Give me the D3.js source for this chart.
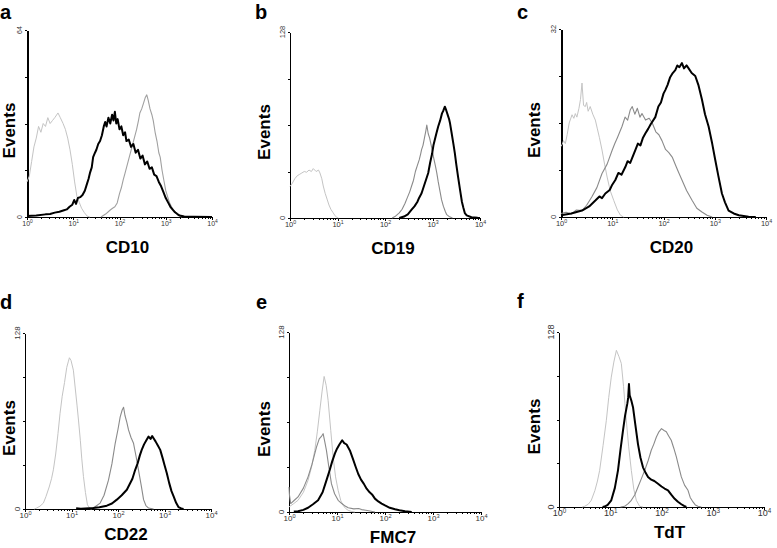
<!DOCTYPE html>
<head>
  <meta charset="utf-8">
  <style>
    body { margin: 0; background: #fff; }
    text { font-family: Arial, "Liberation Sans", sans-serif; }
    .curve { fill: none; stroke-linejoin: round; }
    .letter { font-weight: bold; font-size: 20px; }
    .ylab, .xlab { font-weight: bold; font-size: 17px; }
    .axis path, .axis line { stroke: #000; shape-rendering: crispEdges; }
    .ticklab { font-size: 7px; fill: #333; }
  </style>
  <script src="https://d3js.org/d3.v7.min.js"></script>
</head>

<body>
  <script>
    // panel labels and markers
    var letters = ["a", "b", "c", "d", "e", "f"];
    var markers = ["CD10", "CD19", "CD20", "CD22", "FMC7", "TdT"];
    var yMaxes = [64, 128, 32, 128, 128, 128];
    var decadeLabels = ["0", "1", "2", "3", "4"];

    // curves: [log10 intensity, events]
    // light gray = isotype control, mid gray = control cells, black = sample
    var lightA = [[0,12],[0.05,14],[0.1,19],[0.15,24],[0.2,27],[0.25,31],[0.3,29],[0.35,32],[0.4,31],[0.45,34],[0.5,32],[0.55,33],[0.6,34],[0.67,35.6],[0.72,34],[0.78,32],[0.83,30],[0.88,27],[0.93,23],[0.98,18],[1.03,12],[1.08,7],[1.13,5],[1.18,3],[1.24,1.5],[1.3,0.3],[1.36,0]];
    var midA = [[1.6,0],[1.7,1],[1.8,2.4],[1.85,3],[1.9,3.5],[1.95,4.8],[2.0,8],[2.04,10],[2.08,12.7],[2.12,15],[2.17,18],[2.22,21],[2.27,24],[2.32,27],[2.37,30],[2.41,33],[2.44,35.6],[2.48,37],[2.52,39],[2.56,41],[2.59,41.8],[2.62,40],[2.66,37],[2.7,35],[2.73,33],[2.77,29],[2.81,26],[2.85,22],[2.88,20.5],[2.92,16],[2.96,12.5],[3.0,9],[3.04,7],[3.08,5],[3.14,3],[3.2,1.8],[3.24,1.3],[3.3,0.4],[3.35,0]];
    var blackA = [[0,0.3],[0.2,0.5],[0.4,0.9],[0.5,1.0],[0.6,1.5],[0.7,1.8],[0.8,2.3],[0.86,2.6],[0.92,3.5],[0.98,4.2],[1.02,5.8],[1.06,4.5],[1.1,6.5],[1.15,6.8],[1.2,7.5],[1.25,9],[1.3,11.5],[1.33,13],[1.36,15],[1.4,17],[1.43,20.5],[1.47,22],[1.5,23],[1.54,25],[1.58,26],[1.62,28],[1.66,31],[1.69,32.5],[1.72,31],[1.76,34],[1.8,32],[1.84,35],[1.87,33],[1.9,36],[1.93,32],[1.96,33.5],[2.0,30],[2.04,31],[2.08,28],[2.12,29],[2.15,26],[2.2,26.5],[2.25,24],[2.3,25],[2.35,22],[2.4,23],[2.45,20],[2.5,21],[2.55,18],[2.6,19],[2.65,16.5],[2.7,17],[2.75,14.5],[2.8,14],[2.85,12],[2.9,10.5],[2.95,8.5],[3.0,6.5],[3.05,5],[3.1,3.5],[3.15,2.5],[3.2,1.6],[3.25,1],[3.3,0.5],[3.4,0.2],[3.6,0.1],[4,0]];

    var lightB = [[0,21.7],[0.05,24],[0.1,27],[0.15,29],[0.2,30],[0.25,31],[0.3,32],[0.35,31.5],[0.4,33],[0.45,32],[0.49,34],[0.55,32],[0.6,33],[0.63,31],[0.67,27],[0.7,22],[0.74,17],[0.78,13],[0.82,9],[0.86,6],[0.9,4],[0.94,2],[0.98,0.5],[1.02,0]];
    var midB = [[2.15,0],[2.21,1],[2.3,3.5],[2.36,6],[2.42,10],[2.47,14],[2.52,18],[2.56,22],[2.6,26],[2.64,32],[2.68,36],[2.72,40],[2.75,44],[2.77,47],[2.8,50],[2.83,55],[2.86,60],[2.88,64],[2.91,58],[2.94,55],[2.98,49],[3.02,42],[3.06,36],[3.09,31],[3.12,25],[3.16,18],[3.19,12.6],[3.23,8],[3.27,4.5],[3.3,2.3],[3.36,0.8],[3.42,0]];
    var blackB = [[2.3,0],[2.4,1],[2.48,2.5],[2.56,5.7],[2.62,8],[2.68,11],[2.72,14],[2.77,17],[2.82,22],[2.86,26],[2.91,31],[2.95,38],[2.99,44],[3.02,50],[3.05,54],[3.08,58],[3.12,63],[3.16,67],[3.2,72],[3.23,74],[3.26,76.6],[3.29,74],[3.32,71],[3.35,68],[3.37,65],[3.4,59],[3.44,51],[3.47,44.6],[3.5,37],[3.54,28],[3.58,19.4],[3.62,11],[3.65,7],[3.68,3.4],[3.72,1.8],[3.82,0.5],[3.95,0.1],[4,0]];

    var lightC = [[0,12],[0.02,12.3],[0.05,13],[0.085,12.5],[0.12,14],[0.16,16],[0.215,17.4],[0.25,16.8],[0.28,17.6],[0.31,17],[0.35,18.5],[0.38,20],[0.41,22.8],[0.44,19],[0.475,18.8],[0.5,19.5],[0.53,18],[0.57,18.8],[0.62,17.5],[0.67,16.5],[0.71,15],[0.75,13.5],[0.8,11.4],[0.85,9],[0.9,6.8],[0.96,4.5],[1.03,2.8],[1.1,1.2],[1.16,0.3],[1.22,0]];
    var midC = [[0,0.6],[0.1,0.8],[0.2,0.5],[0.3,1.2],[0.41,1.1],[0.5,2],[0.6,3.4],[0.7,5],[0.8,7.4],[0.9,9],[1.0,11.4],[1.05,12.5],[1.1,13.5],[1.19,15.4],[1.25,17],[1.3,16.5],[1.35,18.2],[1.39,18.8],[1.44,17.5],[1.49,18.5],[1.54,17],[1.58,17.6],[1.65,16.5],[1.72,16.8],[1.78,16],[1.85,14.5],[1.91,14],[1.97,13],[2.04,11.5],[2.1,11],[2.17,10.2],[2.25,8.5],[2.3,7.5],[2.36,6.3],[2.45,4.5],[2.56,2.8],[2.65,1.5],[2.75,0.85],[2.85,0.3],[2.95,0]];
    var blackC = [[0,0.3],[0.2,0.6],[0.41,1.1],[0.55,1.8],[0.67,2.8],[0.75,3.5],[0.8,3.2],[0.865,4],[0.95,4.6],[1.0,5.5],[1.06,6.3],[1.12,7.5],[1.18,7.2],[1.255,8.5],[1.3,9.5],[1.35,9.2],[1.45,11.4],[1.5,12.5],[1.55,12.2],[1.6,13.5],[1.645,14.2],[1.7,15],[1.75,15.8],[1.84,17],[1.9,18.8],[1.95,19.5],[2.0,21],[2.035,21.6],[2.08,22.5],[2.13,23.8],[2.18,24.5],[2.23,25],[2.27,25.8],[2.31,25.5],[2.36,26.2],[2.4,25.3],[2.45,25.8],[2.49,25.3],[2.55,24.5],[2.62,24],[2.68,22.5],[2.75,20],[2.81,17.5],[2.88,15.4],[2.95,12.5],[3.01,9.7],[3.07,7],[3.14,4],[3.2,2.5],[3.27,1.1],[3.37,0.6],[3.47,0.3],[3.66,0.05],[3.8,0]];

    var lightD = [[0.2,0],[0.25,0.7],[0.32,2],[0.395,4.3],[0.45,9],[0.52,16],[0.57,22],[0.61,28.5],[0.66,40],[0.71,55],[0.754,69.6],[0.8,82],[0.85,92],[0.898,103],[0.93,107],[0.955,110],[0.99,108],[1.04,101],[1.08,88],[1.12,75],[1.15,64.7],[1.19,50],[1.22,37],[1.257,23.7],[1.3,12],[1.343,3],[1.39,0.8],[1.436,0]];
    var midD = [[1.4,0],[1.5,1.5],[1.616,4.3],[1.7,10],[1.795,21],[1.87,33],[1.94,47.8],[2.0,58],[2.047,67],[2.09,72],[2.12,74],[2.15,68],[2.19,63],[2.226,57.5],[2.28,52],[2.334,47.8],[2.39,38],[2.44,28.5],[2.5,17],[2.55,6.8],[2.6,2.5],[2.657,0.7],[2.765,0]];
    var blackD = [[1.1,0.5],[1.2,0.2],[1.47,0.8],[1.6,1.2],[1.76,2.4],[1.87,4],[1.975,6.8],[2.08,10],[2.19,14],[2.25,18],[2.31,22],[2.37,28.5],[2.42,33],[2.47,39],[2.51,43],[2.56,47],[2.61,50],[2.657,52.7],[2.7,51],[2.735,53],[2.765,51.4],[2.81,49],[2.86,46],[2.908,43],[2.96,37],[3.0,32],[3.05,26],[3.1,19],[3.15,13],[3.196,9.2],[3.25,4.5],[3.3,1.4],[3.36,0.4],[3.41,0]];

    var lightE = [[0,3.6],[0.1,6],[0.188,8.3],[0.3,14],[0.397,22.5],[0.47,32],[0.537,43.8],[0.59,57],[0.641,72],[0.69,86],[0.732,96.4],[0.775,90],[0.815,79.4],[0.87,58],[0.92,39],[0.97,25],[1.024,15.4],[1.08,8],[1.129,4.7],[1.18,2.5],[1.233,1.2],[1.3,0.4],[1.373,0]];
    var midE = [[0,17.8],[0.01,12],[0.035,6],[0.1,8],[0.188,10.7],[0.3,17],[0.397,25],[0.48,34],[0.571,46],[0.63,52],[0.68,54],[0.711,55.7],[0.745,50],[0.78,43.8],[0.83,32],[0.885,20],[0.95,13],[1.024,8.3],[1.1,6],[1.17,4.2],[1.233,3],[1.35,2.2],[1.45,2.5],[1.512,1.7],[1.6,1.2],[1.686,0.7],[1.79,0]];
    var blackE = [[0.1,0.3],[0.188,0.5],[0.3,1.5],[0.397,3],[0.5,5.5],[0.606,8.3],[0.7,14],[0.78,22.5],[0.85,30],[0.9,36],[0.955,41.5],[1.0,45],[1.05,48],[1.108,51],[1.15,49],[1.2,48],[1.268,43.8],[1.33,38],[1.39,32],[1.443,27],[1.5,23],[1.56,20],[1.617,16.6],[1.68,14],[1.73,12.5],[1.79,9.5],[1.86,7.5],[1.93,6],[2.0,4.7],[2.1,3],[2.21,1.9],[2.3,1.2],[2.418,0.5],[2.557,0]];

    var lightF = [[0.45,0],[0.5,0.5],[0.57,2],[0.63,4.9],[0.7,12],[0.75,19],[0.793,26.8],[0.86,45],[0.924,63.4],[0.97,80],[1.02,95],[1.07,106],[1.12,114.6],[1.17,110],[1.216,105],[1.26,88],[1.314,63],[1.36,44],[1.411,26.8],[1.46,13],[1.509,4.9],[1.574,0.5],[1.639,0]];
    var midF = [[1.2,0],[1.281,0.5],[1.35,2.5],[1.411,4.9],[1.48,9],[1.541,14.6],[1.6,20],[1.672,26.8],[1.74,34],[1.8,41.5],[1.85,46],[1.9,51.2],[1.95,55],[2.0,57.3],[2.05,56],[2.094,55],[2.14,52],[2.19,48.8],[2.24,43],[2.29,36.6],[2.34,29],[2.387,22],[2.45,16],[2.517,12.2],[2.56,7],[2.615,3.7],[2.66,1.5],[2.712,0.5],[2.777,0]];
    var blackF = [[0.85,0],[0.891,0.3],[0.95,1.5],[1.02,4.9],[1.09,14],[1.151,26.8],[1.2,42],[1.249,56],[1.29,67],[1.333,75.6],[1.35,80],[1.365,90],[1.379,81.7],[1.41,78],[1.444,73],[1.49,60],[1.541,46],[1.59,36],[1.639,29],[1.69,25],[1.737,22],[1.8,20],[1.86,19],[1.932,17],[2.0,15],[2.06,13.5],[2.127,12.2],[2.19,9],[2.257,6],[2.32,3.8],[2.387,2],[2.44,0.8],[2.485,0]];

    var lightCurves = [lightA, lightB, lightC, lightD, lightE, lightF];
    var midCurves = [midA, midB, midC, midD, midE, midF];
    var blackCurves = [blackA, blackB, blackC, blackD, blackE, blackF];

    // where each panel sits on the page
    var layout = [
      { x0: 27, x1: 212, top: 30, base: 217, letterX: 0, letterY: 19, yAxisW: 2, tickFs: 7 },
      { x0: 290, x1: 480, top: 32, base: 218, letterX: 255, letterY: 19, yAxisW: 1, tickFs: 7.5 },
      { x0: 561, x1: 766, top: 29, base: 217, letterX: 517, letterY: 19, yAxisW: 2, tickFs: 7.5 },
      { x0: 25, x1: 211, top: 333, base: 509, letterX: 0, letterY: 309, yAxisW: 1, tickFs: 8 },
      { x0: 289, x1: 481, top: 332, base: 512, letterX: 256, letterY: 309, yAxisW: 1, tickFs: 8 },
      { x0: 559, x1: 764, top: 332, base: 507, letterX: 517, letterY: 308, yAxisW: 1, tickFs: 9 }
    ];
    var eventsX = [15, 270, 540, 15, 270, 540];

    var svg = d3.select("body").append("svg")
      .attr("width", 777)
      .attr("height", 548);

    var minorVals = [];
    for (var dec = 0; dec < 4; dec++) {
      for (var m = 2; m <= 9; m++) minorVals.push(m * Math.pow(10, dec));
    }
    var majorVals = [1, 10, 100, 1000, 10000];

    letters.forEach(function(letter, i) {
      var L = layout[i];
      var g = svg.append("g");

      var x = d3.scaleLog().domain([1, 10000]).range([L.x0, L.x1]);
      var y = d3.scaleLinear().domain([0, yMaxes[i]]).range([L.base, L.top]);

      var line = d3.line()
        .x(function(d) { return x(Math.pow(10, d[0])); })
        .y(function(d) { return y(d[1]); });

      // x axis: minor then major ticks
      g.append("g")
        .attr("class", "axis")
        .attr("transform", "translate(0," + L.base + ")")
        .call(d3.axisBottom(x).tickValues(minorVals).tickSize(2).tickSizeOuter(0).tickFormat(""));
      var xMaj = g.append("g")
        .attr("class", "axis")
        .attr("transform", "translate(0," + L.base + ")")
        .call(d3.axisBottom(x).tickValues(majorVals).tickSize(3).tickSizeOuter(0).tickFormat(""));
      xMaj.select(".domain").remove();
      xMaj.selectAll(".tick").each(function(d, k) {
        var t = d3.select(this).append("text")
          .attr("class", "ticklab")
          .attr("y", 9)
          .attr("text-anchor", "middle")
          .style("font-size", L.tickFs + "px");
        t.append("tspan").text("10");
        t.append("tspan")
          .attr("dy", -3)
          .style("font-size", (L.tickFs * 0.7) + "px")
          .text(decadeLabels[k]);
      });

      // y axis: quarter ticks, labels only at 0 and max
      var ymax = yMaxes[i];
      var yAx = g.append("g")
        .attr("class", "axis")
        .attr("transform", "translate(" + L.x0 + ",0)")
        .call(d3.axisLeft(y).tickValues([0, ymax / 4, ymax / 2, ymax * 3 / 4, ymax]).tickSize(2).tickSizeOuter(0).tickFormat(""));
      yAx.select(".domain").attr("stroke-width", L.yAxisW);
      [0, ymax].forEach(function(v) {
        g.append("text")
          .attr("class", "ticklab")
          .attr("transform", "translate(" + (L.x0 - 5) + "," + y(v) + ") rotate(-90)")
          .attr("text-anchor", "middle")
          .style("font-size", L.tickFs + "px")
          .text(v);
      });

      // curves
      g.append("path").datum(lightCurves[i])
        .attr("class", "curve")
        .attr("stroke", "#c4c4c4")
        .attr("stroke-width", 1)
        .attr("d", line);
      g.append("path").datum(midCurves[i])
        .attr("class", "curve")
        .attr("stroke", i == 0 ? "#a0a0a0" : "#8a8a8a")
        .attr("stroke-width", 1.1)
        .attr("d", line);
      g.append("path").datum(blackCurves[i])
        .attr("class", "curve")
        .attr("stroke", "#000")
        .attr("stroke-width", 2)
        .attr("d", line);

      // texts
      g.append("text")
        .attr("class", "letter")
        .attr("x", L.letterX)
        .attr("y", L.letterY)
        .text(letter);
      g.append("text")
        .attr("class", "ylab")
        .attr("transform", "translate(" + eventsX[i] + "," + ((L.top + L.base) / 2 + 7) + ") rotate(-90)")
        .attr("text-anchor", "middle")
        .text("Events");
      g.append("text")
        .attr("class", "xlab")
        .attr("x", (L.x0 + L.x1) / 2 + 8)
        .attr("y", L.base + (i < 3 ? 36 : 31))
        .attr("text-anchor", "middle")
        .text(markers[i]);
    });
  </script>
</body>

</html>
